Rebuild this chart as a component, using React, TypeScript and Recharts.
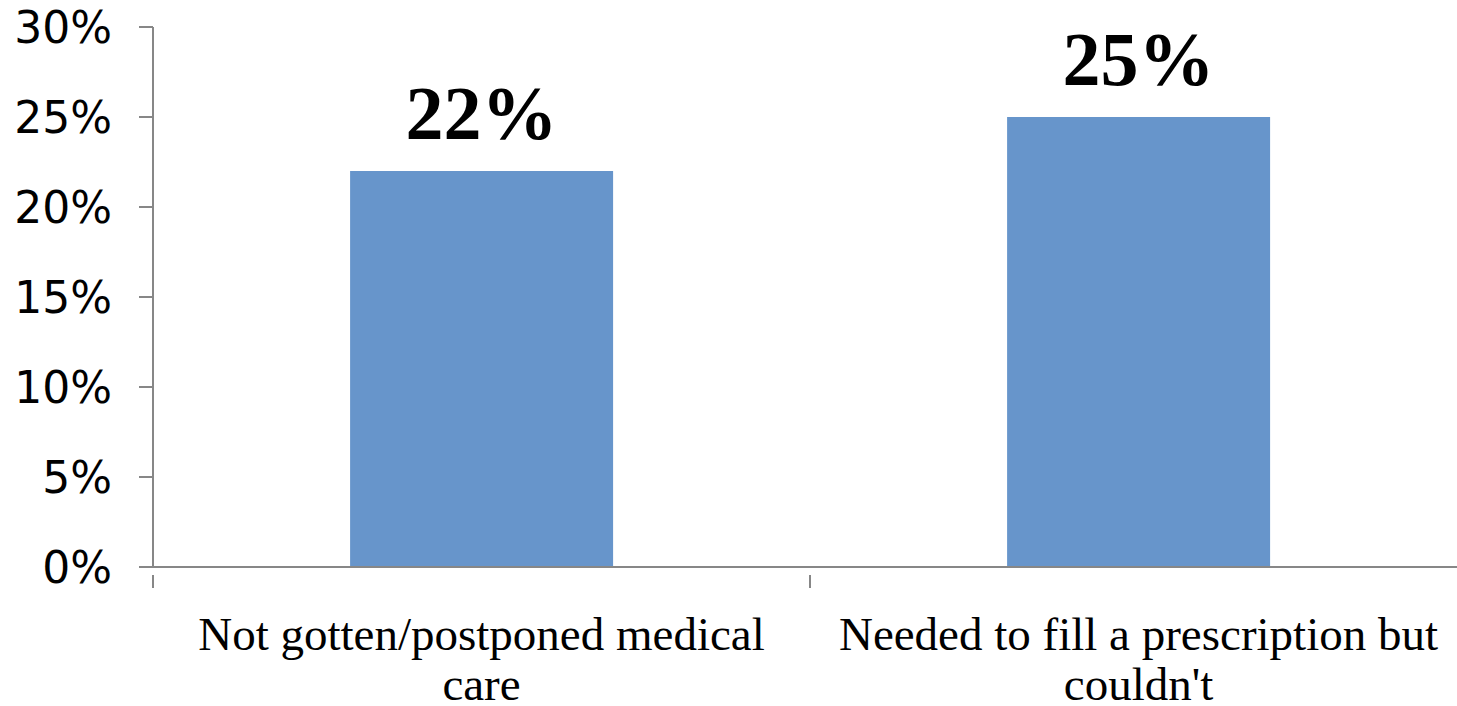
import React from "react";
import { BarChart, Bar, XAxis, YAxis, LabelList } from "recharts";

// Survey results: share of respondents
const categories = [
  "Not gotten/postponed medical care",
  "Needed to fill a prescription but couldn't",
];
const categoryLines = [
  ["Not gotten/postponed medical", "care"],
  ["Needed to fill a prescription but", "couldn't"],
];
const values = [22, 25];
const yTicks = [0, 5, 10, 15, 20, 25, 30];

const data = categories.map((name, i) => ({ name, value: values[i] }));

const AXIS_COLOR = "#878787";
const BAR_COLOR = "#6795CB";

function CategoryTick(props: any) {
  const { x, y, payload, index } = props;
  const half = payload?.offset ?? 328.5;
  const lines = categoryLines[index] ?? [payload.value];
  return (
    <g>
      <line x1={x - half} y1={y} x2={x - half} y2={y + 13} stroke={AXIS_COLOR} strokeWidth={2} />
      {index === categories.length - 1 && (
        <line x1={x + half} y1={y} x2={x + half} y2={y + 13} stroke={AXIS_COLOR} strokeWidth={2} />
      )}
      <text
        x={x}
        y={y}
        textAnchor="middle"
        fill="#000"
        style={{ fontFamily: "'Liberation Serif', serif", fontSize: 47 }}
      >
        {lines.map((line: string, i: number) => (
          <tspan key={i} x={x} y={y + 75 + i * 50}>
            {line}
          </tspan>
        ))}
      </text>
    </g>
  );
}

export default function App() {
  return (
    <div
      style={{
        position: "absolute",
        left: 0,
        top: 0,
        width: 1457,
        height: 706,
        overflow: "hidden",
        background: "#fff",
      }}
    >
      <BarChart
        width={1475}
        height={706}
        data={data}
        margin={{ top: 27, right: 8, bottom: 0, left: 0 }}
        barCategoryGap="30%"
      >
        <XAxis
          dataKey="name"
          height={139}
          axisLine={{ stroke: AXIS_COLOR, strokeWidth: 2 }}
          tickLine={false}
          tick={<CategoryTick />}
          interval={0}
        />
        <YAxis
          width={153}
          domain={[0, 30]}
          ticks={yTicks}
          interval={0}
          tickFormatter={(v) => `${v}%`}
          axisLine={{ stroke: AXIS_COLOR, strokeWidth: 2 }}
          tickLine={{ stroke: AXIS_COLOR, strokeWidth: 2 }}
          tickSize={14}
          tickMargin={27}
          tick={{ fill: "#000", fontSize: 44, fontFamily: "'DejaVu Sans', sans-serif" }}
        />
        <Bar dataKey="value" fill={BAR_COLOR} isAnimationActive={false}>
          <LabelList
            dataKey="value"
            position="top"
            offset={32}
            formatter={(v: any) => `${v}%`}
            style={{
              fill: "#000",
              fontSize: 76,
              fontWeight: "bold",
              fontFamily: "'Liberation Serif', serif",
            }}
          />
        </Bar>
      </BarChart>
    </div>
  );
}
